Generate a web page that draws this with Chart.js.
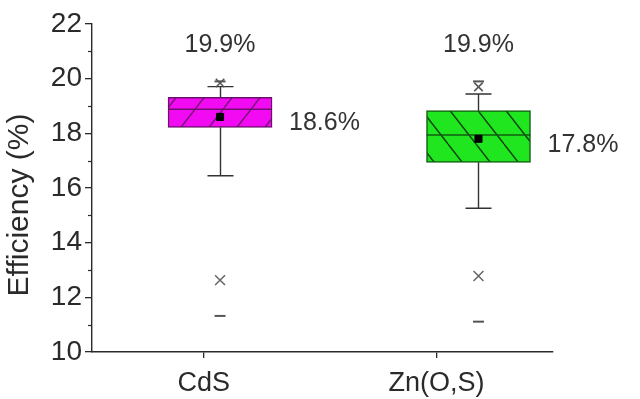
<!DOCTYPE html>
<html>
<head>
<meta charset="utf-8">
<script src="https://cdn.jsdelivr.net/npm/chart.js@4.4.1/dist/chart.umd.min.js"></script>
<style>
  html, body { margin: 0; padding: 0; background: #fff; }
  #wrap { width: 640px; height: 399px; }
</style>
</head>
<body>
<div id="wrap"><canvas id="chart"></canvas></div>
<script>
// data
const categories = ['CdS', 'Zn(O,S)'];
const catPos = [1, 2];          // where the category ticks sit
const boxPos = [1.07, 2.18];    // boxes are drawn a little right of the ticks
const q1 = [18.22, 16.94];
const q3 = [19.32, 18.83];
const median = [18.88, 17.94];
const mean = [18.6, 17.8];
const whiskerLow = [16.45, 15.26];
const whiskerHigh = [19.71, 19.44];
const p1 = [12.63, 12.78];
const p99 = [19.84, 19.70];
const minVal = [11.32, 11.11];
const maxVal = [19.9, 19.9];
const yTicks = [10, 12, 14, 16, 18, 20, 22];
const yMinorTicks = [11, 13, 15, 17, 19, 21];
const yTitle = 'Efficiency (%)';

const FONT = "'Liberation Sans', Arial, sans-serif";
const INK = '#2a2a2a';

// diagonal hatch fill for the boxes
function hatch(fill, line, dir) {
  const w = 28, h = 36;
  const c = document.createElement('canvas');
  c.width = w; c.height = h;
  const g = c.getContext('2d');
  g.fillStyle = fill;
  g.fillRect(0, 0, w, h);
  g.strokeStyle = line;
  g.lineWidth = 1.4;
  g.beginPath();
  for (let k = -1; k <= 1; k++) {
    if (dir > 0) { g.moveTo(k * w, h); g.lineTo(k * w + w, 0); }
    else { g.moveTo(k * w, 0); g.lineTo(k * w + w, h); }
  }
  g.stroke();
  return g.createPattern(c, 'repeat');
}

const boxFill = [hatch('#f20af2', '#761476', 1), hatch('#1fe61f', '#0c440c', -1)];
const boxLine = ['#6e0f6e', '#125c12'];

const pts = (arr) => boxPos.map((x, i) => ({ x: x, y: arr[i] }));

const boxExtras = {
  id: 'boxExtras',
  beforeDatasetsDraw(chart) {
    const xs = chart.scales.x, ys = chart.scales.y, ctx = chart.ctx;
    ctx.save();
    ctx.strokeStyle = '#333';
    ctx.lineWidth = 1.4;
    boxPos.forEach((v, i) => {
      const x = Math.round(xs.getPixelForValue(v)) + 0.5;
      const yHi = ys.getPixelForValue(whiskerHigh[i]);
      const yLo = ys.getPixelForValue(whiskerLow[i]);
      ctx.beginPath();
      ctx.moveTo(x, yHi); ctx.lineTo(x, ys.getPixelForValue(q3[i]));
      ctx.moveTo(x, ys.getPixelForValue(q1[i])); ctx.lineTo(x, yLo);
      ctx.moveTo(x - 13, yHi); ctx.lineTo(x + 13, yHi);
      ctx.moveTo(x - 13, yLo); ctx.lineTo(x + 13, yLo);
      ctx.stroke();
    });
    ctx.restore();
  },
  afterDatasetDraw(chart, args) {
    if (args.index !== 0) return;
    const ys = chart.scales.y, ctx = chart.ctx;
    ctx.save();
    ctx.lineWidth = 1.4;
    args.meta.data.forEach((bar, i) => {
      const y = ys.getPixelForValue(median[i]);
      ctx.strokeStyle = boxLine[i];
      ctx.beginPath();
      ctx.moveTo(bar.x - bar.width / 2, y);
      ctx.lineTo(bar.x + bar.width / 2, y);
      ctx.stroke();
    });
    ctx.restore();
  },
  afterDraw(chart) {
    const xs = chart.scales.x, ys = chart.scales.y, ctx = chart.ctx;
    const bars = chart.getDatasetMeta(0).data;
    ctx.save();
    // minor ticks on the y axis
    ctx.strokeStyle = INK;
    ctx.lineWidth = 1.2;
    yMinorTicks.forEach(v => {
      const y = Math.round(ys.getPixelForValue(v)) + 0.5;
      ctx.beginPath();
      ctx.moveTo(ys.right - 4, y);
      ctx.lineTo(ys.right, y);
      ctx.stroke();
    });
    // y axis title, sits a bit below the middle of the axis
    ctx.save();
    ctx.translate(20, (ys.top + ys.bottom) / 2 + 17);
    ctx.rotate(-Math.PI / 2);
    ctx.fillStyle = INK;
    ctx.font = '30px ' + FONT;
    ctx.textAlign = 'center';
    ctx.textBaseline = 'middle';
    ctx.fillText(yTitle, 0, 0);
    ctx.restore();
    // value labels
    ctx.fillStyle = '#333';
    ctx.font = '25px ' + FONT;
    ctx.textBaseline = 'middle';
    boxPos.forEach((v, i) => {
      ctx.textAlign = 'center';
      ctx.fillText(maxVal[i].toFixed(1) + '%', xs.getPixelForValue(v), ys.getPixelForValue(maxVal[i]) - 36);
      ctx.textAlign = 'left';
      ctx.fillText(mean[i].toFixed(1) + '%', bars[i].x + bars[i].width / 2 + 17, ys.getPixelForValue(mean[i]) + 6);
    });
    ctx.restore();
  }
};

const ctx = document.getElementById('chart').getContext('2d');
new Chart(ctx, {
  type: 'bar',
  data: {
    datasets: [
      {
        label: 'box',
        data: boxPos.map((x, i) => ({ x: x, y: [q1[i], q3[i]] })),
        backgroundColor: boxFill,
        borderColor: boxLine,
        borderWidth: 1.5,
        borderSkipped: false,
        barThickness: 104,
        order: 2
      },
      {
        type: 'scatter', label: 'mean', data: pts(mean), order: 1,
        pointStyle: 'rect', radius: 5, backgroundColor: '#000', borderColor: '#000', borderWidth: 1
      },
      {
        type: 'scatter', label: '99%', data: pts(p99), order: 1,
        pointStyle: 'crossRot', radius: 6, borderColor: '#555', borderWidth: 1.5
      },
      {
        type: 'scatter', label: '1%', data: pts(p1), order: 1,
        pointStyle: 'crossRot', radius: 7, borderColor: '#666', borderWidth: 1.5
      },
      {
        type: 'scatter', label: 'max', data: pts(maxVal), order: 1,
        pointStyle: 'line', radius: 5.5, borderColor: '#555', borderWidth: 2
      },
      {
        type: 'scatter', label: 'min', data: pts(minVal), order: 1,
        pointStyle: 'line', radius: 5.5, borderColor: '#555', borderWidth: 2
      }
    ]
  },
  options: {
    responsive: true,
    maintainAspectRatio: false,
    animation: false,
    layout: { padding: { left: 0, right: 87, top: 24, bottom: 0 } },
    plugins: { legend: { display: false }, tooltip: { enabled: false } },
    scales: {
      x: {
        type: 'linear',
        min: 0.52,
        max: 2.5,
        offset: false,
        afterBuildTicks: s => { s.ticks = catPos.map(v => ({ value: v })); },
        afterFit: s => { s.height = 47; },
        ticks: {
          callback: (v, i) => categories[i],
          font: { family: FONT, size: 27 },
          color: INK,
          padding: 9,
          maxRotation: 0,
          autoSkip: false
        },
        grid: { drawOnChartArea: false, offset: false, tickLength: 6, color: INK, lineWidth: 1.3 },
        border: { display: true, color: INK, width: 1.4 }
      },
      y: {
        min: 10,
        max: 22,
        afterBuildTicks: s => { s.ticks = yTicks.map(v => ({ value: v })); },
        afterFit: s => { s.width = 92; },
        ticks: {
          font: { family: FONT, size: 28 },
          color: INK,
          padding: 3
        },
        grid: { drawOnChartArea: false, tickLength: 7, color: INK, lineWidth: 1.3 },
        border: { display: true, color: INK, width: 1.4 }
      }
    }
  },
  plugins: [boxExtras]
});
</script>
</body>
</html>
